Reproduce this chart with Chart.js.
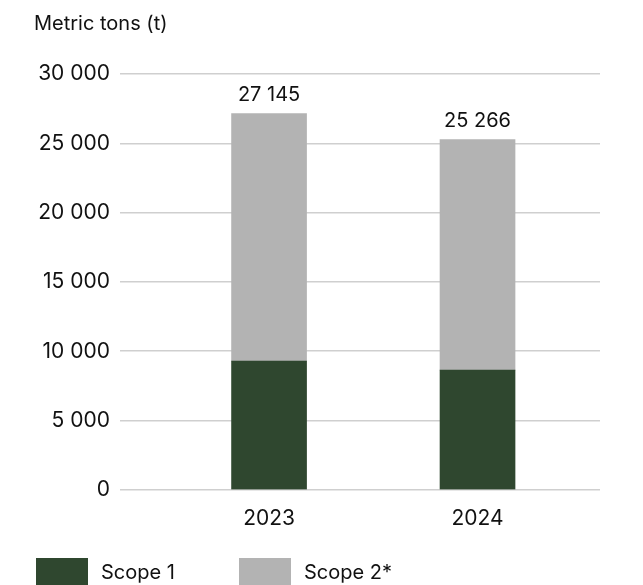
<!DOCTYPE html>
<html>
<head>
<meta charset="utf-8">
<script src="https://cdn.jsdelivr.net/npm/chart.js@4"></script>
<style>
  html, body { margin: 0; padding: 0; background: #fff; overflow: hidden; font-family: Inter, sans-serif; }
  #wrap { width: 643px; height: 560px; }
  #legend { display: flex; margin: -2px 0 0 36px; }
  .item { display: flex; align-items: flex-start; margin-right: 64px; }
  .box { width: 52px; height: 34px; margin-right: 13px; }
  .item span { font-size: 20px; color: #111; line-height: 28px; }
</style>
</head>
<body>
<div id="wrap"><canvas id="emissionsChart"></canvas></div>
<div id="legend"></div>
<script>
const years = [2023, 2024];
const scope1 = [9280, 8630];
const scope2 = [17865, 16636];
const totals = ['27 145', '25 266'];
const yTicks = [0, 5000, 10000, 15000, 20000, 25000, 30000];

const green = '#2f472f';
const grey = '#b3b3b3';

function fmt(v) {
    return v.toLocaleString('en-US').replace(/,/g, ' ');
}

// totals above each stacked bar
const totalLabels = {
    id: 'totalLabels',
    afterDatasetsDraw(chart) {
        let ctx = chart.ctx;
        let x = chart.scales.x;
        let y = chart.scales.y;
        ctx.save();
        ctx.font = '20px Inter';
        ctx.fillStyle = '#111';
        ctx.textAlign = 'center';
        ctx.textBaseline = 'bottom';
        years.forEach((yr, i) => {
            let top = y.getPixelForValue(scope1[i] + scope2[i]);
            ctx.fillText(totals[i], x.getPixelForValue(yr), top - 9);
        });
        ctx.restore();
    }
};

let ctx = document.getElementById('emissionsChart').getContext('2d');
let myChart = new Chart(ctx, {
    type: 'bar',
    data: {
        datasets: [{
            label: 'Scope 1',
            data: years.map((yr, i) => ({ x: yr, y: scope1[i] })),
            backgroundColor: green,
            barThickness: 75
        }, {
            label: 'Scope 2*',
            data: years.map((yr, i) => ({ x: yr, y: scope2[i] })),
            backgroundColor: grey,
            barThickness: 75
        }]
    },
    options: {
        responsive: true,
        maintainAspectRatio: false,
        animation: false,
        layout: { padding: { left: 34, right: 43, top: 12, bottom: 13 } },
        scales: {
            x: {
                type: 'linear',
                stacked: true,
                offset: false,
                min: 2022.285,
                max: 2024.5875,
                afterBuildTicks: (scale) => { scale.ticks = years.map(v => ({ value: v })); },
                grid: { display: false, drawTicks: false },
                border: { display: false },
                ticks: {
                    padding: 16,
                    color: '#111',
                    font: { family: 'Inter', size: 21 },
                    callback: (v) => String(v)
                }
            },
            y: {
                stacked: true,
                min: 0,
                max: 30000,
                afterBuildTicks: (scale) => { scale.ticks = yTicks.map(v => ({ value: v })); },
                afterFit: (scale) => { scale.width = 86; },
                grid: { color: '#cfcfcf', lineWidth: 1.5, drawTicks: false },
                border: { display: false },
                ticks: {
                    padding: 10,
                    color: '#111',
                    font: { family: 'Inter', size: 21 },
                    callback: (v) => fmt(v)
                }
            }
        },
        plugins: {
            title: {
                display: true,
                text: 'Metric tons (t)',
                align: 'start',
                color: '#111',
                font: { family: 'Inter', size: 20, weight: 'normal' },
                padding: { top: 0, bottom: 38 }
            },
            legend: { display: false },
            tooltip: { enabled: false }
        }
    },
    plugins: [totalLabels]
});

// legend built from the chart's datasets
let legend = document.getElementById('legend');
myChart.data.datasets.forEach(ds => {
    let item = document.createElement('div');
    item.className = 'item';
    item.innerHTML = '<div class="box" style="background:' + ds.backgroundColor + '"></div><span>' + ds.label + '</span>';
    legend.appendChild(item);
});
</script>
</body>
</html>
